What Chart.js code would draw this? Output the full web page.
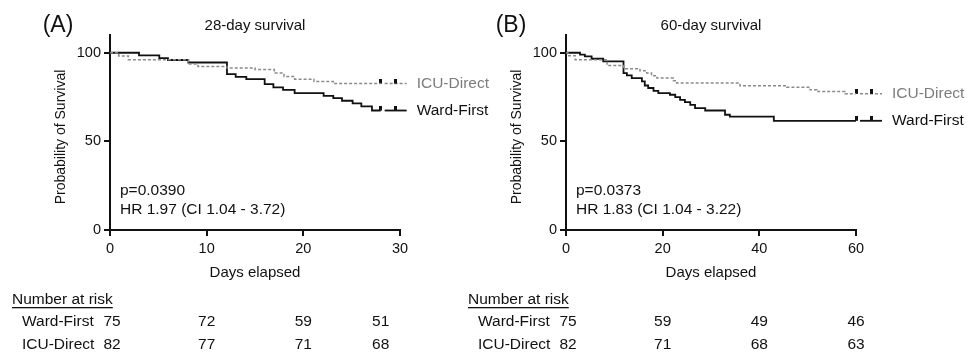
<!DOCTYPE html>
<html><head><meta charset="utf-8">
<script src="https://cdn.jsdelivr.net/npm/chart.js@4/dist/chart.umd.min.js"></script>
<style>
html,body{margin:0;padding:0;background:#fff;width:968px;height:354px;overflow:hidden}
.c{position:absolute;top:0}
</style></head><body>
<div class="c" style="left:0"><canvas id="a" width="520" height="354"></canvas></div>
<div class="c" style="left:450px"><canvas id="b" width="518" height="354"></canvas></div>
<script>
const FONT = '"Liberation Sans", Arial, Helvetica, sans-serif';
const groupNames = ['Ward-First', 'ICU-Direct'];

// Panel A: 28-day survival
const wardA_days = [0, 3, 5.1, 6, 8.1, 12.1, 13, 14.1, 16, 16.9, 17.9, 19.1, 22.1, 23.1, 24, 25.1, 26, 27.1, 28];
const wardA_surv = [100, 98.5, 97.0, 95.9, 94.5, 87.9, 86.4, 85.1, 82.3, 80.4, 79.1, 77.2, 75.7, 74.4, 72.9, 71.4, 69.7, 67.4, 67.4];
const icuA_days = [0, 0.9, 1.9, 8.1, 9.1, 12.1, 15, 17, 18, 19.1, 21.1, 23.1, 28];
const icuA_surv = [100, 98.2, 96.0, 93.6, 92.3, 91.4, 90.5, 88.5, 86.6, 85.1, 83.8, 82.6, 82.6];
const xTicksA = [0, 10, 20, 30];
const xTickLabelsA = ['0', '10', '20', '30'];
const riskDaysA = [0, 10, 20, 28];
const riskWardA = [75, 72, 59, 51];
const riskIcuA = [82, 77, 71, 68];

// Panel B: 60-day survival
const wardB_days = [0, 2.9, 3.9, 5.3, 7.7, 11.9, 12.6, 13.6, 15.7, 16.3, 17, 18.1, 19.1, 21.5, 22.6, 23.6, 24.6, 25.7, 26.7, 28.8, 32.9, 33.9, 43, 60];
const wardB_surv = [100, 98.9, 97.9, 96.6, 95.1, 88.5, 87.2, 85.7, 83.8, 81.5, 80.1, 78.5, 77.2, 76.3, 75.0, 73.4, 72.1, 70.6, 68.8, 67.4, 65.0, 64.0, 61.6, 61.6];
const icuB_days = [0, 0.4, 1.9, 8.5, 11.9, 15.3, 16.7, 17.7, 18.8, 22.2, 22.9, 36, 45.7, 50.5, 51.9, 57.7, 60];
const icuB_surv = [100, 98.3, 96.0, 92.8, 91.0, 89.8, 88.5, 87.0, 85.7, 84.2, 82.9, 81.4, 80.5, 79.1, 78.1, 76.8, 76.8];
const xTicksB = [0, 20, 40, 60];
const xTickLabelsB = ['0', '20', '40', '60'];
const riskDaysB = [0, 20, 40, 60];
const riskWardB = [75, 59, 49, 46];
const riskIcuB = [82, 71, 68, 63];

const yTicks = [0, 50, 100];
const yTickLabels = ['0', '50', '100'];

// censor mark image (short vertical bar above the line)
const censorImg = document.createElement('canvas');
censorImg.width = 3; censorImg.height = 10;
(function(){ const c = censorImg.getContext('2d'); c.fillStyle = '#111'; c.fillRect(0, 0, 3, 5); })();

const WARD_COLOR = '#111111';
const ICU_COLOR = '#8a8a8a';

function pts(days, surv){ return days.map((d, i) => ({x: d, y: surv[i]})); }

function makeChart(id, o){
  const series = [
    {name: groupNames[1], days: o.icuDays, surv: o.icuSurv, color: ICU_COLOR, width: 1.5, dash: [3, 2], text: '#7c7c7c'},
    {name: groupNames[0], days: o.wardDays, surv: o.wardSurv, color: WARD_COLOR, width: 1.8, dash: [], text: '#111'}
  ];
  const decor = {
    id: 'decor',
    afterDraw(chart){
      const ctx = chart.ctx, ca = chart.chartArea, xs = chart.scales.x, ys = chart.scales.y;
      ctx.save();
      ctx.fillStyle = '#111';
      ctx.textBaseline = 'middle';
      ctx.textAlign = 'center';
      ctx.font = '23px ' + FONT;
      ctx.fillText(o.letter, ca.left - o.letterDx, 26);
      ctx.font = '15px ' + FONT;
      ctx.fillText(o.title, (ca.left + ca.right) / 2, 26);
      ctx.fillText('Days elapsed', (ca.left + ca.right) / 2, ca.bottom + 43);
      ctx.save();
      ctx.translate(ca.left - 49, 137);
      ctx.rotate(-Math.PI / 2);
      ctx.font = '14px ' + FONT;
      ctx.fillText('Probability of Survival', 0, 0);
      ctx.restore();
      ctx.textAlign = 'left';
      ctx.font = '15.5px ' + FONT;
      ctx.fillText(o.p, ca.left + 10, 191);
      ctx.fillText(o.hr, ca.left + 10, 210);
      // legend
      series.forEach(s => {
        const lx = xs.getPixelForValue(s.days[s.days.length - 1]);
        const ly = ys.getPixelForValue(s.surv[s.surv.length - 1]);
        ctx.strokeStyle = s.color; ctx.lineWidth = s.width; ctx.setLineDash(s.dash);
        ctx.beginPath(); ctx.moveTo(lx + 4, ly); ctx.lineTo(lx + 26, ly); ctx.stroke();
        ctx.setLineDash([]);
        ctx.drawImage(censorImg, lx + 15 - 1.5, ly - 5);
        ctx.fillStyle = s.text; ctx.font = '15.5px ' + FONT;
        ctx.fillText(s.name, lx + 36, ly);
      });
      // risk table
      const x0 = xs.getPixelForValue(0);
      ctx.fillStyle = '#111';
      ctx.font = '15.5px ' + FONT;
      ctx.textAlign = 'left';
      ctx.fillText('Number at risk', x0 - 98, 300);
      const w = ctx.measureText('Number at risk').width;
      ctx.fillRect(x0 - 98, 307, w, 1.3);
      const rows = [[groupNames[0], o.riskWard, 322], [groupNames[1], o.riskIcu, 345]];
      rows.forEach(r => {
        ctx.textAlign = 'left';
        ctx.fillText(r[0], x0 - 88, r[2]);
        ctx.textAlign = 'center';
        o.riskDays.forEach((d, i) => ctx.fillText(String(r[1][i]), xs.getPixelForValue(d) + (i === 0 ? 2 : 0), r[2]));
      });
      ctx.restore();
    }
  };
  return new Chart(document.getElementById(id), {
    type: 'line',
    data: {
      datasets: [
        {data: pts(o.icuDays, o.icuSurv), borderColor: ICU_COLOR, borderWidth: 1.5, borderDash: [3, 2], stepped: 'before', pointRadius: 0, fill: false},
        {data: pts(o.wardDays, o.wardSurv), borderColor: WARD_COLOR, borderWidth: 1.8, stepped: 'before', pointRadius: 0, fill: false},
        {type: 'scatter', clip: false, data: [{x: o.icuDays[o.icuDays.length - 1], y: o.icuSurv[o.icuSurv.length - 1]}, {x: o.wardDays[o.wardDays.length - 1], y: o.wardSurv[o.wardSurv.length - 1]}], pointStyle: censorImg, pointRadius: 5, showLine: false}
      ]
    },
    options: {
      responsive: false, animation: false, devicePixelRatio: 1,
      layout: {padding: {left: 0, top: 35, right: o.padRight, bottom: 84}},
      plugins: {legend: {display: false}, tooltip: {enabled: false}, title: {display: false}},
      scales: {
        x: {
          type: 'linear', min: 0, max: o.xMax,
          afterBuildTicks: s => { s.ticks = o.xTicks.map(v => ({value: v})); },
          afterFit: s => { s.height = 40; },
          ticks: {callback: (v, i) => o.xTickLabels[i], color: '#111', font: {family: FONT, size: 14.5}, padding: 4, maxRotation: 0, autoSkip: false},
          grid: {display: true, drawOnChartArea: false, drawTicks: true, tickLength: 6, color: '#111', lineWidth: 2},
          border: {display: true, color: '#111', width: 2}
        },
        y: {
          min: 0, max: 110,
          afterBuildTicks: s => { s.ticks = yTicks.map(v => ({value: v})); },
          afterFit: s => { s.width = o.yWidth; },
          ticks: {callback: (v, i) => yTickLabels[i], color: '#111', font: {family: FONT, size: 14.5}, padding: 3},
          grid: {display: true, drawOnChartArea: false, drawTicks: true, tickLength: 6, color: '#111', lineWidth: 2},
          border: {display: true, color: '#111', width: 2}
        }
      }
    },
    plugins: [decor]
  });
}

makeChart('a', {
  letter: '(A)', letterDx: 52, title: '28-day survival', p: 'p=0.0390', hr: 'HR 1.97 (CI 1.04 - 3.72)',
  wardDays: wardA_days, wardSurv: wardA_surv, icuDays: icuA_days, icuSurv: icuA_surv,
  xMax: 30, xTicks: xTicksA, xTickLabels: xTickLabelsA,
  riskDays: riskDaysA, riskWard: riskWardA, riskIcu: riskIcuA,
  yWidth: 110, padRight: 120
});
makeChart('b', {
  letter: '(B)', letterDx: 55, title: '60-day survival', p: 'p=0.0373', hr: 'HR 1.83 (CI 1.04 - 3.22)',
  wardDays: wardB_days, wardSurv: wardB_surv, icuDays: icuB_days, icuSurv: icuB_surv,
  xMax: 60, xTicks: xTicksB, xTickLabels: xTickLabelsB,
  riskDays: riskDaysB, riskWard: riskWardB, riskIcu: riskIcuB,
  yWidth: 116, padRight: 112
});
</script>
</body></html>
